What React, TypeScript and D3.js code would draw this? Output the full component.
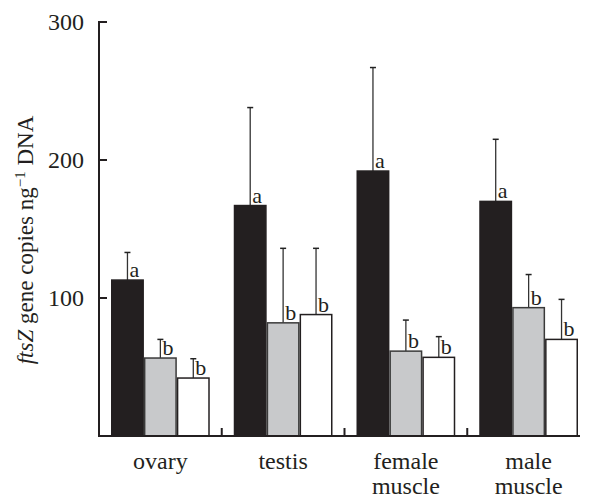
import React from "react";
import * as d3 from "d3";

const categories = ["ovary", "testis", "female|muscle", "male|muscle"];
const series = ["s1", "s2", "s3"];
const means = [
  [113, 56.5, 42],
  [167, 82, 88],
  [192, 61.5, 57],
  [170, 93, 70],
];
const errTops = [
  [133, 70, 56],
  [238, 136, 136],
  [267, 84, 72],
  [215, 117, 99],
];
const letters = [
  ["a", "b", "b"],
  ["a", "b", "b"],
  ["a", "b", "b"],
  ["a", "b", "b"],
];
const yTicks = [100, 200, 300];

const fills = ["#231f20", "#c8c9cb", "#ffffff"];
const strokes = ["#231f20", "#3a3a3a", "#231f20"];

export default function App() {
  const W = 589, H = 499;
  const left = 99, right = 590, base = 436, top = 22;
  const y = d3.scaleLinear().domain([0, 300]).range([base, top]);
  const x0 = d3.scaleBand().domain(categories).range([left, right]).paddingInner(0).paddingOuter(0);
  const inset = 12;
  const x1 = d3.scaleBand().domain(series).range([0, x0.bandwidth() - 2 * inset]).padding(0);
  const font = "'Liberation Serif', 'Times New Roman', serif";
  const lastBarEnd = (x0(categories[3]) as number) + inset + x1.bandwidth() * 3 + 2;

  return (
    <svg width={W} height={H} style={{ position: "absolute", left: 0, top: 0 }} fontFamily={font}>
      {categories.map((c, ci) => (
        <g key={c} transform={`translate(${(x0(c) as number) + inset},0)`}>
          {series.map((s, si) => {
            const bx = x1(s) as number;
            const bw = x1.bandwidth();
            const v = means[ci][si];
            const e = errTops[ci][si];
            const cx = bx + bw / 2;
            return (
              <g key={s}>
                <line x1={cx} x2={cx} y1={y(v)} y2={y(e)} stroke="#333" strokeWidth={1.3} />
                <line x1={cx - 3} x2={cx + 3} y1={y(e)} y2={y(e)} stroke="#222" strokeWidth={1.5} />
                <rect
                  x={bx + 0.75}
                  y={y(v)}
                  width={bw - 1.5}
                  height={base - y(v)}
                  fill={fills[si]}
                  stroke={strokes[si]}
                  strokeWidth={1.5}
                />
                <text x={cx + 2} y={y(v) - 3} fontSize={22} fill="#231f20">
                  {letters[ci][si]}
                </text>
              </g>
            );
          })}
        </g>
      ))}
      <line x1={left} x2={left} y1={top - 1} y2={base + 1} stroke="#231f20" strokeWidth={2} />
      {yTicks.map((t) => (
        <g key={t}>
          <line x1={left} x2={left + 8} y1={y(t)} y2={y(t)} stroke="#231f20" strokeWidth={2} />
          <text x={left - 15} y={y(t)} dy="0.35em" textAnchor="end" fontSize={24} fill="#231f20">
            {t}
          </text>
        </g>
      ))}
      <line x1={left - 1} x2={lastBarEnd} y1={base} y2={base} stroke="#231f20" strokeWidth={2} />
      {categories.slice(1).map((c) => (
        <line key={c} x1={x0(c) as number} x2={x0(c) as number} y1={base} y2={base - 8} stroke="#231f20" strokeWidth={2} />
      ))}
      {categories.map((c) => {
        const cx = (x0(c) as number) + x0.bandwidth() / 2;
        return (
          <text key={c} x={cx} y={469} textAnchor="middle" fontSize={24} fill="#231f20">
            {c.split("|").map((ln, i) => (
              <tspan key={i} x={cx} dy={i === 0 ? 0 : 25}>
                {ln}
              </tspan>
            ))}
          </text>
        );
      })}
      <text transform={`translate(33,240) rotate(-90)`} textAnchor="middle" fontSize={23} fill="#231f20">
        <tspan fontStyle="italic">ftsZ</tspan>
        <tspan> gene copies ng</tspan>
        <tspan dy={-8} fontSize={15}>−1</tspan>
        <tspan dy={8}> DNA</tspan>
      </text>
    </svg>
  );
}
